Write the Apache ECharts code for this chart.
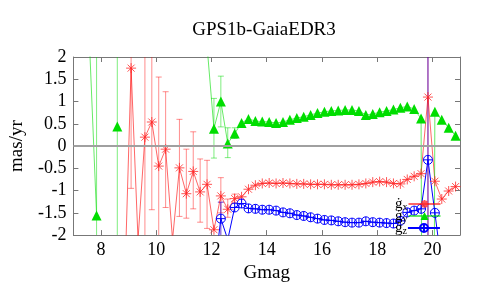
<!DOCTYPE html>
<html>
<head>
<meta charset="utf-8">
<script src="https://cdn.jsdelivr.net/npm/echarts@6/dist/echarts.min.js"></script>
<style>html,body{margin:0;padding:0;background:#fff}#c{width:480px;height:288px}</style>
</head>
<body>
<div id="c"></div>
<script>
var titleText = 'GPS1b-GaiaEDR3';
var xName = 'Gmag';
var yName = 'mas/yr';
var xTicks = [8, 10, 12, 14, 16, 18, 20];
var seriesNames = ['gx', 'gy', 'gz'];

var mags = [7.59, 7.84, 8.09, 8.34, 8.59, 8.84, 9.09, 9.34, 9.59, 9.84, 10.09, 10.34, 10.59, 10.84, 11.09, 11.34, 11.59, 11.84, 12.09, 12.34, 12.59, 12.84, 13.09, 13.34, 13.59, 13.84, 14.09, 14.34, 14.59, 14.84, 15.09, 15.34, 15.59, 15.84, 16.09, 16.34, 16.59, 16.84, 17.09, 17.34, 17.59, 17.84, 18.09, 18.34, 18.59, 18.84, 19.09, 19.34, 19.59, 19.84, 20.09, 20.34, 20.59, 20.84];

var gx = [null, null, null, null, null, -3.5, 1.75, -2.1, 0.20, 0.54, -0.45, -0.07, -2.1, -0.49, -1.07, -0.57, -1.03, -0.86, -1.88, -1.12, -1.42, -1.18, -1.14, -0.97, -0.88, -0.84, -0.83, -0.84, -0.83, -0.84, -0.85, -0.85, -0.86, -0.86, -0.86, -0.87, -0.87, -0.87, -0.87, -0.86, -0.84, -0.81, -0.80, -0.81, -0.84, -0.85, -0.75, -0.68, -0.62, 1.10, -0.79, -1.19, -1.01, -0.91];
var gxLo = [null, null, null, null, null, null, -0.95, null, -5, -1.43, -5, -1.38, null, -1.58, -1.62, -1.41, -1.71, -1.85, null, -1.50, -1.60, -1.28, null, null, null, null, null, null, null, null, null, null, null, null, null, null, null, null, null, null, null, null, null, null, null, null, null, null, null, -5, null, null, null, null];
var gxHi = [null, null, null, null, null, null, 5, null, 5, 5, 1.55, 1.22, null, 0.60, -0.07, 0.32, -0.29, -0.32, null, -0.71, -1.19, -1.08, null, null, null, null, null, null, null, null, null, null, null, null, null, null, null, null, null, null, null, null, null, null, null, null, null, null, null, 5, null, null, null, null];

var gy = [2.2, -1.56, null, null, 0.44, null, null, null, null, null, null, null, null, null, null, null, null, 2.25, 0.39, 1.00, 0.06, 0.28, 0.52, 0.61, 0.56, 0.55, 0.54, 0.52, 0.54, 0.59, 0.63, 0.66, 0.70, 0.74, 0.77, 0.79, 0.80, 0.81, 0.81, 0.79, 0.70, 0.72, 0.76, 0.79, 0.82, 0.86, 0.89, 0.83, 0.62, -40, 0.77, 0.59, 0.41, 0.23];
var gyLo = [null, -5, null, null, -5, null, null, null, null, null, null, null, null, null, null, null, null, null, -0.27, 0.43, -0.26, 0.17, null, null, null, null, null, null, null, null, null, null, null, null, null, null, null, null, null, null, null, null, null, null, null, null, null, null, null, null, null, null, null, null];
var gyHi = [null, 5, null, null, 5, null, null, null, null, null, null, null, null, null, null, null, null, null, 1.07, 1.57, 0.41, 0.41, null, null, null, null, null, null, null, null, null, null, null, null, null, null, null, null, null, null, null, null, null, null, null, null, null, null, null, null, null, null, null, null];

var gz = [null, null, null, null, null, null, null, null, null, null, null, null, null, null, null, null, null, null, -2.9, -1.63, -2.1, -1.38, -1.29, -1.40, -1.41, -1.43, -1.43, -1.45, -1.49, -1.51, -1.55, -1.57, -1.60, -1.63, -1.66, -1.67, -1.69, -1.71, -1.72, -1.72, -1.69, -1.71, -1.72, -1.73, -1.74, -1.68, -1.49, -1.45, -1.41, -0.31, -1.50, -2.7, -3.2, -3.2];
var gzLo = [null, null, null, null, null, null, null, null, null, null, null, null, null, null, null, null, null, null, null, -5, null, null, null, null, null, null, null, null, null, null, null, null, null, null, null, null, null, null, null, null, null, null, null, null, null, null, null, null, null, -5, null, null, null, null];
var gzHi = [null, null, null, null, null, null, null, null, null, null, null, null, null, null, null, null, null, null, null, -1.26, null, null, null, null, null, null, null, null, null, null, null, null, null, null, null, null, null, null, null, null, null, null, null, null, null, null, null, null, null, 5, null, null, null, null];

var FONT = 'Liberation Serif';
var RED = '#ff0000', GREEN = '#00dd00', BLUE = '#0000ff';

function pairs(vals) {
  return mags.map(function (m, i) { return [m, vals[i]]; });
}
function errs(lo, hi) {
  var out = [];
  mags.forEach(function (m, i) { if (lo[i] !== null && hi[i] !== null) out.push([m, lo[i], hi[i]]); });
  return out;
}
function errSeries(lo, hi, color) {
  return {
    type: 'custom', clip: true, silent: true, z: 2,
    data: errs(lo, hi),
    encode: { x: 0, y: [1, 2] },
    renderItem: function (params, api) {
      var x = api.value(0);
      var p1 = api.coord([x, api.value(1)]);
      var p2 = api.coord([x, api.value(2)]);
      var w = 3;
      var st = { stroke: color, lineWidth: 1 };
      return {
        type: 'group',
        children: [
          { type: 'line', shape: { x1: p1[0], y1: p1[1], x2: p2[0], y2: p2[1] }, style: st },
          { type: 'line', shape: { x1: p1[0] - w, y1: p1[1], x2: p1[0] + w, y2: p1[1] }, style: st },
          { type: 'line', shape: { x1: p2[0] - w, y1: p2[1], x2: p2[0] + w, y2: p2[1] }, style: st }
        ]
      };
    }
  };
}

var starPath = 'path://M0,5L10,5M5,0L5,10M1.5,1.5L8.5,8.5M8.5,1.5L1.5,8.5';
var circPlusPath = 'path://M0,5A5,5 0 1,1 10,5A5,5 0 1,1 0,5ZM5,0L5,10M0,5L10,5';

function legendFor(name, top) {
  return {
    orient: 'vertical', left: 395, top: top, align: 'right',
    itemWidth: 32, itemHeight: 10, itemGap: 0, padding: 0,
    data: [name],
    formatter: function (n) { return '{g|ġ}{s|' + n.slice(1) + '}'; },
    textStyle: {
      color: '#000', fontFamily: FONT, padding: [0, -4, 0, 0],
      rich: {
        g: { fontFamily: FONT, fontSize: 15, lineHeight: 12, color: '#000' },
        s: { fontFamily: FONT, fontSize: 10, lineHeight: 12, color: '#000', padding: [6, 0, 0, 0] }
      }
    }
  };
}

var chart = echarts.init(document.getElementById('c'), null, { renderer: 'canvas' });
chart.setOption({
  animation: false,
  backgroundColor: '#fff',
  title: {
    text: titleText, left: 259, top: 16, textAlign: 'center',
    textStyle: { fontFamily: FONT, fontSize: 19, fontWeight: 'normal', color: '#000' }
  },
  legend: [legendFor(seriesNames[0], 196), legendFor(seriesNames[1], 208), legendFor(seriesNames[2], 220)],
  grid: { left: 58, right: 20, top: 57, bottom: 50, show: false },
  xAxis: [{
    type: 'value', min: 7, max: 21, position: 'bottom',
    name: xName, nameLocation: 'middle', nameGap: 26,
    nameTextStyle: { fontFamily: FONT, fontSize: 19, color: '#000' },
    axisLine: { onZero: false, lineStyle: { color: '#777', width: 1 } },
    axisTick: { inside: true, length: 5, customValues: xTicks, lineStyle: { color: '#777' } },
    axisLabel: { customValues: xTicks, fontFamily: FONT, fontSize: 18, color: '#000', margin: 6 },
    splitLine: { show: false }
  }, {
    type: 'value', min: 7, max: 21, position: 'top',
    axisLine: { onZero: false, lineStyle: { color: '#777', width: 1 } },
    axisTick: { inside: true, length: 5, customValues: xTicks, lineStyle: { color: '#777' } },
    axisLabel: { show: false }, splitLine: { show: false }
  }],
  yAxis: [{
    type: 'value', min: -2, max: 2, interval: 0.5, position: 'left',
    name: yName, nameLocation: 'middle', nameGap: 36, nameRotate: 90,
    nameTextStyle: { fontFamily: FONT, fontSize: 19, color: '#000' },
    axisLine: { show: true, onZero: false, lineStyle: { color: '#777', width: 1 } },
    axisTick: { show: true, inside: true, length: 5, lineStyle: { color: '#777' } },
    axisLabel: { fontFamily: FONT, fontSize: 18, color: '#000', margin: 7 },
    splitLine: { show: false }
  }, {
    type: 'value', min: -2, max: 2, interval: 0.5, position: 'right',
    axisLine: { show: true, onZero: false, lineStyle: { color: '#777', width: 1 } },
    axisTick: { show: true, inside: true, length: 5, lineStyle: { color: '#777' } },
    axisLabel: { show: false }, splitLine: { show: false }
  }],
  series: [
    {
      name: seriesNames[0], type: 'line', data: pairs(gx), z: 3,
      symbol: starPath, symbolSize: 10,
      itemStyle: { color: RED, borderColor: 'rgba(255,40,40,0.8)', borderWidth: 1 },
      lineStyle: { color: 'rgba(255,0,0,0.6)', width: 1 },
      markLine: {
        silent: true, symbol: 'none', label: { show: false },
        lineStyle: { color: '#a0a0a0', width: 2, type: 'solid' },
        data: [{ yAxis: 0 }]
      }
    },
    {
      name: seriesNames[1], type: 'line', data: pairs(gy), z: 3,
      symbol: 'triangle', symbolSize: 10,
      itemStyle: { color: GREEN },
      lineStyle: { color: 'rgba(0,220,0,0.6)', width: 1 }
    },
    {
      name: seriesNames[2], type: 'line', data: pairs(gz), z: 3,
      symbol: circPlusPath, symbolSize: 9,
      itemStyle: { color: 'rgba(0,0,0,0)', borderColor: BLUE, borderWidth: 1 },
      lineStyle: { color: BLUE, width: 1 }
    },
    errSeries(gxLo, gxHi, 'rgba(255,0,0,0.45)'),
    errSeries(gyLo, gyHi, 'rgba(0,220,0,0.5)'),
    errSeries(gzLo, gzHi, 'rgba(60,0,200,0.8)')
  ]
});
</script>
</body>
</html>
